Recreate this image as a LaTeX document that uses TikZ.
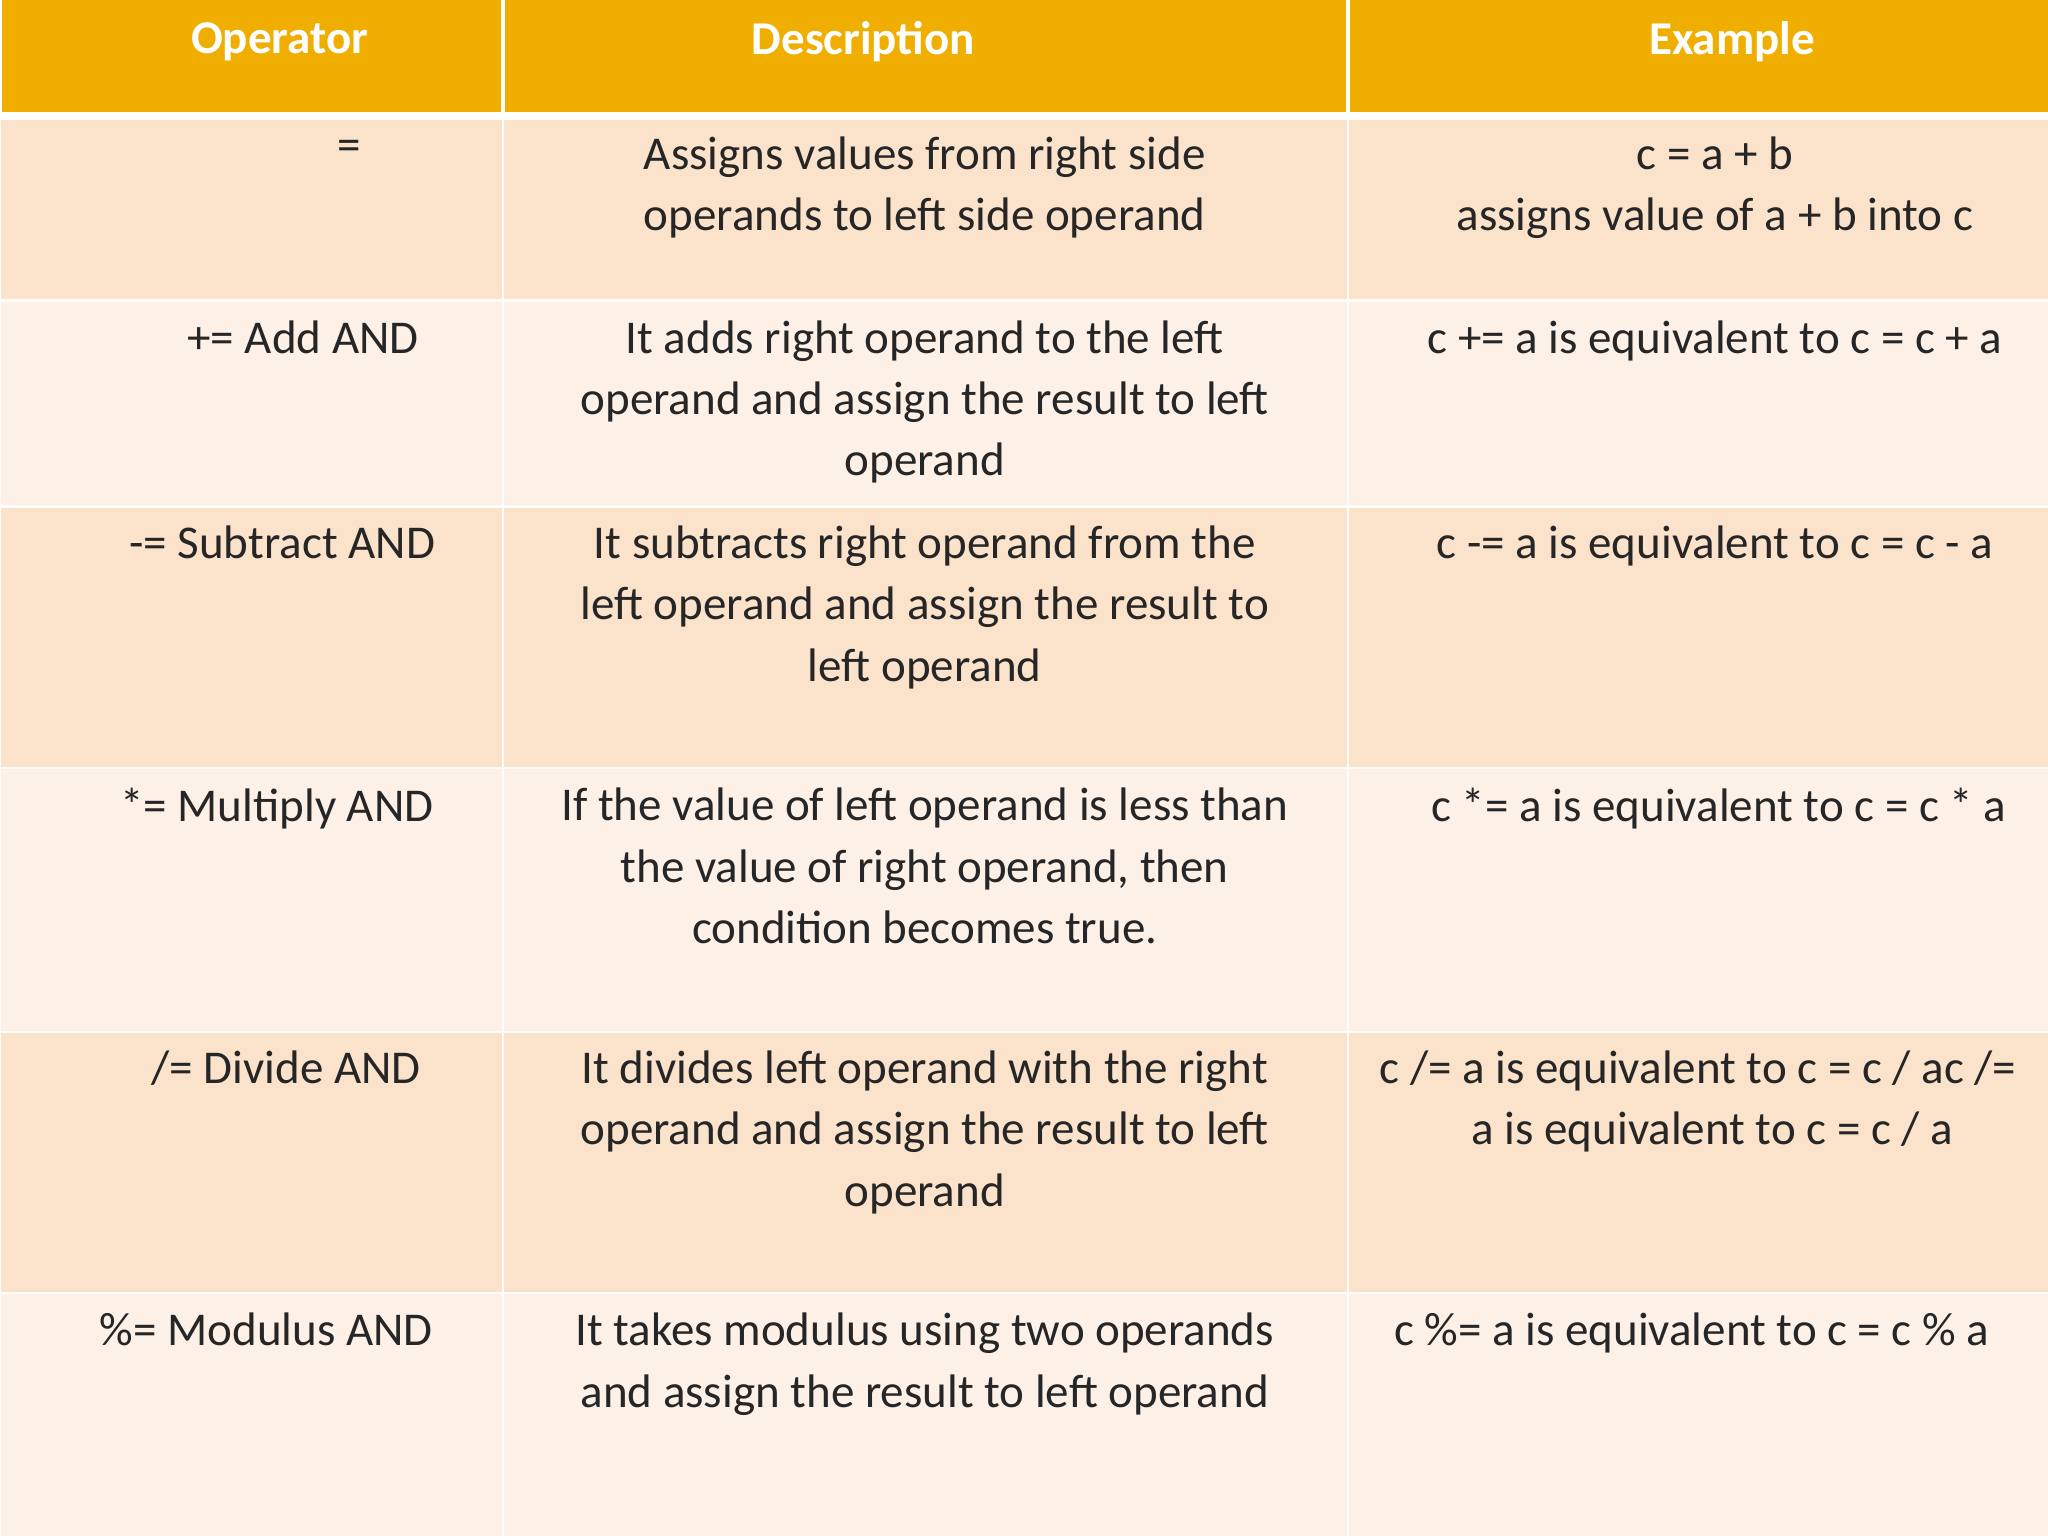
\documentclass[tikz,border=0pt]{standalone}
\usepackage{fontspec}
\setmainfont{Carlito}
\begin{document}
\begin{tikzpicture}[x=0.5pt,y=-0.5pt,
  hdr/.style={fill=hdrc,draw=white,line width=1.5pt},
  dk/.style={fill=rowdk,draw=white!92!rowdk,line width=1pt},
  lt/.style={fill=rowlt,draw=white!92!rowdk,line width=1pt},
  ht/.style={text=white,font=\fontsize{18}{22}\selectfont\bfseries,inner sep=0pt},
  tx/.style={text=black!85,font=\fontsize{18}{23.5}\selectfont,align=center,inner sep=0pt,anchor=north}]
\definecolor{hdrc}{HTML}{F0AE00}
\definecolor{rowdk}{HTML}{FAE2CB}
\definecolor{rowlt}{HTML}{FDF0E7}
\useasboundingbox (0,0) rectangle (1568,1176);
\clip (0,0) rectangle (1568,1176);
\fill[white] (0,0) rectangle (1568,1176);
\foreach \a/\b in {0/385,385/1032,1032/1580}{\draw[hdr] (\a,-2) rectangle (\b,87);}
\foreach \t/\bb/\s in {91/230/dk,230/388/lt,388/588/dk,588/790/lt,790/990/dk,990/1180/lt}{
  \foreach \a/\b in {0/385,385/1032,1032/1580}{\draw[\s] (\a,\t) rectangle (\b,\bb);}}
\node[ht] (h1) at (214,32) {Operator};
\node[ht] (h2) at (661,32) {Description};
\node[ht] (h3) at (1326,32) {Example};
\node[tx] (o1) at (267,107) {=};
\node[tx] (d1) at (708,104) {Assigns values from right side\\operands to left side operand};
\node[tx] (e1) at (1313,104) {c = a + b\\assigns value of a + b into c};
\node[tx] (o2) at (232,245) {+= Add AND};
\node[tx] (d2) at (708,245) {It adds right operand to the left\\operand and assign the result to left\\operand};
\node[tx] (e2) at (1313,245) {c += a is equivalent to c = c + a};
\node[tx] (o3) at (216,402) {-= Subtract AND};
\node[tx] (d3) at (708,402) {It subtracts right operand from the\\left operand and assign the result to\\left operand};
\node[tx] (e3) at (1313,402) {c -= a is equivalent to c = c - a};
\node[tx] (o4) at (212,603) {*= Multiply AND};
\node[tx] (d4) at (708,603) {If the value of left operand is less than\\the value of right operand, then\\condition becomes true.};
\node[tx] (e4) at (1316,603) {c *= a is equivalent to c = c * a};
\node[tx] (o5) at (219,804) {/= Divide AND};
\node[tx] (d5) at (708,804) {It divides left operand with the right\\operand and assign the result to left\\operand};
\node[tx,anchor=north west] (e5) at (1056,804) {c /= a is equivalent to c = c / ac /=};
\node[tx] (e5b) at (1311,851) {a is equivalent to c = c / a};
\node[tx] (o6) at (204,1005) {\%= Modulus AND};
\node[tx] (d6) at (708,1005) {It takes modulus using two operands\\and assign the result to left operand};
\node[tx,anchor=north west] (e6) at (1067,1005) {c \%= a is equivalent to c = c \% a};
\end{tikzpicture}
\end{document}
